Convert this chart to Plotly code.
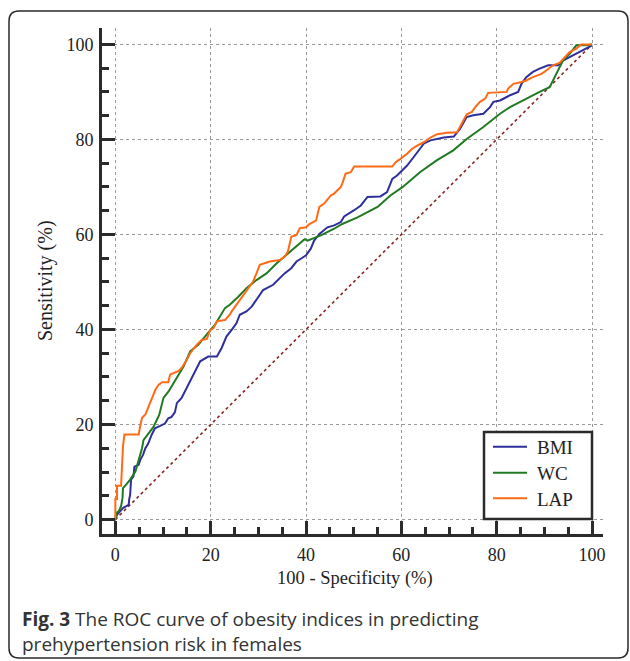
import plotly.graph_objects as go

# ---- data ----
bmi_x = [0, 0.35, 1.0, 1.6, 2.3, 2.8, 2.9, 3.1, 3.3, 3.8, 4.0, 4.9, 5.2, 5.8, 6.3, 6.9, 7.6, 8.3, 9.4, 10.4,
         11.1, 11.8, 12.5, 12.9, 13.9, 15.0, 16.0, 17.1, 17.8, 19.5, 21.3, 22.3, 23.3, 24.4, 25.4, 26.1,
         27.5, 28.6, 29.6, 31.0, 33.1, 34.5, 35.5, 36.9, 38.0, 39.4, 40.0, 41.0, 41.7, 42.8, 44.5, 45.9,
         47.3, 48.0, 49.0, 50.1, 51.5, 52.9, 55.6, 57.0, 58.1, 59.1, 60.2, 61.2, 62.6, 63.6, 64.7, 66.1,
         67.5, 68.9, 71.0, 72.0, 72.3, 73.7, 75.1, 77.2, 78.6, 79.3, 80.7, 82.8, 84.5, 85.2, 86.2, 87.6,
         89.0, 90.8, 92.9, 93.9, 95.3, 96.7, 98.1, 99.5, 100]
bmi_y = [0, 1.0, 1.7, 2.4, 2.8, 3.1, 4.2, 5.2, 8.4, 9.1, 11.1, 11.5, 12.5, 13.6, 15.0, 16.0, 17.8, 19.2, 19.7, 20.2,
         21.3, 21.6, 22.6, 24.5, 25.6, 27.7, 29.8, 31.9, 33.3, 34.3, 34.3, 36.1, 38.5, 39.9, 41.3, 43.1,
         43.8, 44.8, 46.2, 48.3, 49.4, 50.8, 51.8, 52.9, 54.3, 55.2, 55.6, 57.0, 58.7, 60.1, 61.5, 61.9,
         62.6, 63.8, 64.4, 65.1, 66.1, 67.9, 68.0, 68.9, 71.7, 72.4, 73.5, 74.5, 76.3, 77.7, 79.1, 79.8,
         80.1, 80.4, 80.6, 81.9, 82.2, 84.7, 85.1, 85.4, 86.8, 87.9, 88.2, 89.3, 90.0, 91.7, 93.1, 94.2,
         94.9, 95.6, 95.6, 96.6, 97.3, 98.0, 98.7, 99.4, 99.8]

wc_x = [0, 0.2, 0.7, 1.2, 1.5, 1.6, 2.4, 3.1, 4.2, 4.9, 5.6, 5.9, 7.0, 8.0, 9.2, 10.1, 11.2, 12.9, 14.3, 15.7,
        17.4, 18.8, 20.9, 23.0, 24.0, 25.8, 27.5, 29.6, 31.7, 33.8, 35.9, 38.0, 39.7, 40.3, 43.1, 45.9,
        47.6, 50.8, 55.0, 57.7, 60.3, 63.9, 67.4, 70.9, 73.7, 77.2, 80.7, 82.8, 86.2, 89.0, 91.1, 92.5,
        93.9, 95.3, 96.3, 96.7, 98.8, 100]
wc_y = [0, 1.4, 1.7, 2.8, 4.5, 6.6, 7.5, 8.4, 10.1, 12.5, 15.0, 16.7, 18.1, 19.5, 22.0, 25.6, 27.0, 29.8, 32.2, 35.4,
        36.8, 38.5, 41.0, 44.5, 45.2, 46.9, 48.7, 50.4, 51.8, 53.9, 55.7, 57.4, 59.0, 58.7, 59.8, 61.2,
        62.2, 63.6, 65.8, 68.2, 70.0, 73.1, 75.6, 77.7, 80.1, 82.6, 85.4, 86.8, 88.6, 90.0, 91.0, 93.8,
        96.6, 98.0, 99.4, 99.8, 99.8, 100]

lap_x = [0, 0, 0.35, 0.35, 1.2, 1.4, 1.6, 1.9, 4.9, 5.2, 5.6, 6.3, 7.0, 7.7, 8.4, 9.1, 9.8, 11.1, 11.5, 13.2,
         13.9, 15.0, 15.7, 17.1, 18.1, 19.2, 19.9, 20.6, 21.3, 23.0, 24.0, 24.4, 25.4, 26.1, 27.5, 28.9,
         29.6, 30.3, 32.4, 34.5, 35.5, 36.2, 36.9, 38.0, 38.7, 40.0, 40.7, 42.1, 42.8, 43.8, 45.2, 45.9,
         46.6, 47.3, 47.6, 48.0, 48.3, 49.4, 50.1, 58.1, 58.8, 59.8, 61.2, 62.2, 63.3, 64.7, 66.1, 67.5,
         69.6, 71.7, 72.3, 73.0, 73.7, 74.8, 75.5, 76.5, 77.6, 78.2, 82.1, 82.4, 83.5, 85.2, 86.2, 87.6,
         89.4, 90.4, 91.8, 93.2, 94.2, 95.3, 96.7, 97.7, 100]
lap_y = [0, 4.3, 4.3, 7.1, 7.1, 11.8, 15.3, 17.9, 17.9, 19.6, 21.4, 22.1, 23.8, 25.2, 27.3, 28.4, 28.9, 28.9, 30.5, 31.2,
         31.9, 33.6, 35.0, 36.8, 37.8, 38.0, 39.9, 40.3, 41.7, 42.0, 43.1, 43.8, 45.2, 46.2, 48.3, 50.1,
         51.8, 53.6, 54.3, 54.6, 55.3, 56.4, 59.5, 59.9, 61.3, 61.5, 62.2, 62.9, 65.8, 66.5, 68.2, 68.6,
         69.3, 70.0, 70.7, 71.7, 72.8, 73.1, 74.3, 74.3, 75.2, 75.9, 77.0, 78.0, 78.7, 79.4, 80.4, 81.1,
         81.4, 81.5, 82.6, 84.0, 85.3, 85.8, 86.8, 87.9, 88.6, 89.8, 90.0, 90.7, 91.7, 92.1, 92.4, 93.1,
         93.8, 94.5, 95.6, 96.1, 97.2, 98.4, 99.1, 100, 100]

ref_x = [0, 100]
ref_y = [0, 100]

tick_vals = [0, 20, 40, 60, 80, 100]
tick_text = ["0", "20", "40", "60", "80", "100"]

series_names = ["BMI", "WC", "LAP"]
series_colors = ["#2f2f9c", "#217a21", "#ff6a16"]

SERIF = "Liberation Serif"
SANS = "Open Sans"

fig = go.Figure()
fig.add_trace(go.Scatter(x=ref_x, y=ref_y, mode="lines", showlegend=False,
                         line=dict(color="#8b2323", width=1.6, dash="dot"), hoverinfo="skip"))
for name, xs, ys, col in zip(series_names, [bmi_x, wc_x, lap_x], [bmi_y, wc_y, lap_y], series_colors):
    fig.add_trace(go.Scatter(x=xs, y=ys, mode="lines", name=name, showlegend=False,
                             line=dict(color=col, width=2)))

axis_common = dict(
    showline=True, linecolor="#2b2b2b", linewidth=3, mirror=False,
    ticks="inside", ticklen=13, tickwidth=3, tickcolor="#2b2b2b",
    tickvals=tick_vals, ticktext=tick_text,
    tickfont=dict(family=SERIF, size=18, color="#222222"),
    showgrid=True, gridcolor="#9a9a9a", gridwidth=1, griddash="dot",
    zeroline=False,
    minor=dict(dtick=5, tick0=0, ticks="inside", ticklen=7, tickwidth=2.5,
               tickcolor="#2b2b2b", showgrid=False),
)

fig.update_xaxes(range=[-2.8, 102.3], ticklabelstandoff=2, **axis_common)
fig.update_yaxes(range=[-3.05, 103.45], ticklabelstandoff=2, **axis_common)

L, R, T, B = 102, 27, 28, 127
W, H = 630, 661
pw, ph = W - L - R, H - T - B


def px(xp):
    return (xp - L) / pw


def py(yp):
    return (H - B - yp) / ph


# rounded frame
x0, x1, y0, y1, r = 9, 628, 11, 658, 10
rx, ry = r / pw, r / ph
X0, X1, Y0, Y1 = px(x0), px(x1), py(y0), py(y1)
path = (f"M {X0+rx},{Y0} L {X1-rx},{Y0} Q {X1},{Y0} {X1},{Y0-ry} "
        f"L {X1},{Y1+ry} Q {X1},{Y1} {X1-rx},{Y1} "
        f"L {X0+rx},{Y1} Q {X0},{Y1} {X0},{Y1+ry} "
        f"L {X0},{Y0-ry} Q {X0},{Y0} {X0+rx},{Y0} Z")
fig.add_shape(type="path", path=path, xref="paper", yref="paper",
              line=dict(color="#2a2a2a", width=1.5), layer="below")

# legend box (drawn to match the reference's boxed key)
fig.add_shape(type="rect", xref="paper", yref="paper",
              x0=px(484), x1=px(592), y0=py(519), y1=py(432),
              line=dict(color="#2b2b2b", width=2.5), fillcolor="white", layer="above")
legend_rows = [446.7, 472.7, 498.3]
annotations = []
for name, col, ry_ in zip(series_names, series_colors, legend_rows):
    fig.add_shape(type="line", xref="paper", yref="paper",
                  x0=px(493), x1=px(527), y0=py(ry_), y1=py(ry_),
                  line=dict(color=col, width=2), layer="above")
    annotations.append(dict(text=name, x=px(535), y=py(ry_ + 1), xref="paper", yref="paper",
                            showarrow=False, xanchor="left", yanchor="middle",
                            font=dict(family=SERIF, size=19, color="#222222")))

annotations += [
    dict(text="100 - Specificity (%)", x=px(355), y=py(578), xref="paper", yref="paper",
         showarrow=False, xanchor="center", yanchor="middle",
         font=dict(family=SERIF, size=18.5, color="#222222")),
    dict(text="Sensitivity (%)", x=px(45), y=py(281), xref="paper", yref="paper",
         showarrow=False, xanchor="center", yanchor="middle", textangle=-90,
         font=dict(family=SERIF, size=20, color="#222222")),
    dict(text="<b>Fig. 3</b> The ROC curve of obesity indices in predicting", x=px(20), y=py(619),
         xref="paper", yref="paper", showarrow=False, xanchor="left", yanchor="middle",
         font=dict(family=SANS, size=19, color="#333333")),
    dict(text="prehypertension risk in females", x=px(20), y=py(644),
         xref="paper", yref="paper", showarrow=False, xanchor="left", yanchor="middle",
         font=dict(family=SANS, size=19, color="#333333")),
]

fig.update_layout(
    width=W, height=H,
    margin=dict(l=L, r=R, t=T, b=B, autoexpand=False),
    paper_bgcolor="white", plot_bgcolor="white",
    annotations=annotations,
    showlegend=False,
)

fig.write_html("out.html", config={"displayModeBar": False},
               post_script="document.body.style.margin='0px';")
